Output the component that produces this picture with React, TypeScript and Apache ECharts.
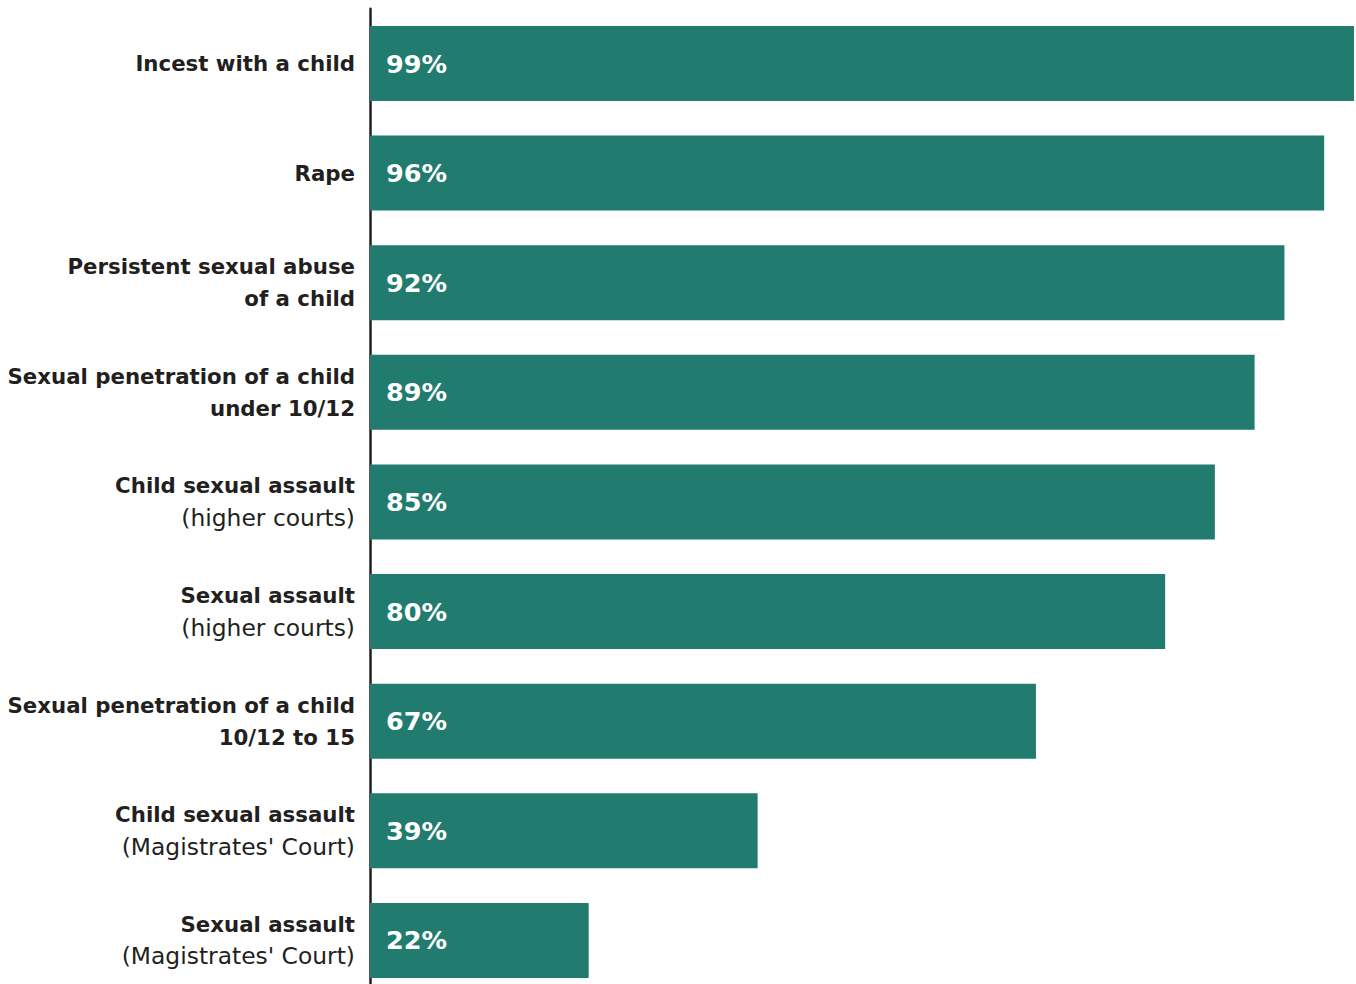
import React, { useEffect, useRef } from "react";
import * as echarts from "echarts";

const labelBold: string[] = [
  "Incest with a child",
  "Rape",
  "Persistent sexual abuse\nof a child",
  "Sexual penetration of a child\nunder 10/12",
  "Child sexual assault",
  "Sexual assault",
  "Sexual penetration of a child\n10/12 to 15",
  "Child sexual assault",
  "Sexual assault",
];
const labelNote: string[] = [
  "",
  "",
  "",
  "",
  "(higher courts)",
  "(higher courts)",
  "",
  "(Magistrates' Court)",
  "(Magistrates' Court)",
];
const values: number[] = [99, 96, 92, 89, 85, 80, 67, 39, 22];

const categories = labelBold.map((_, i) => String(i));

export default function App() {
  const ref = useRef<HTMLDivElement>(null);
  useEffect(() => {
    document.body.style.margin = "0";
    document.body.style.overflow = "hidden";
    if (!ref.current) return;
    const chart = echarts.init(ref.current, null, { renderer: "svg" });
    chart.setOption({
      animation: false,
      backgroundColor: "#ffffff",
      grid: { left: 370, right: 2, top: 8.7, height: 986.5, containLabel: false },
      xAxis: {
        type: "value",
        min: 0,
        max: 99,
        show: false,
      },
      yAxis: {
        type: "category",
        data: categories,
        inverse: true,
        axisLine: { show: true, lineStyle: { color: "#231f20", width: 2.5 } },
        axisTick: { show: false },
        axisLabel: {
          margin: 15,
          align: "right",
          formatter: (v: string) => {
            const i = Number(v);
            const parts = labelBold[i].split("\n").map((s) => `{b|${s}}`);
            if (labelNote[i]) parts.push(`{n|${labelNote[i]}}`);
            return parts.join("\n");
          },
          rich: {
            b: {
              fontFamily: "DejaVu Sans",
              fontWeight: "bold",
              fontSize: 21.3,
              color: "#231f20",
              lineHeight: 32,
              align: "right",
            },
            n: {
              fontFamily: "DejaVu Sans",
              fontWeight: "normal",
              fontSize: 23.4,
              color: "#231f20",
              lineHeight: 32,
              align: "right",
            },
          },
        },
      },
      series: [
        {
          type: "bar",
          data: values,
          barWidth: 75,
          itemStyle: { color: "#217c6f" },
          label: {
            show: true,
            position: [16, "50%"],
            align: "left",
            verticalAlign: "middle",
            formatter: "{c}%",
            color: "#ffffff",
            fontFamily: "DejaVu Sans",
            fontWeight: "bold",
            fontSize: 25.5,
          },
        },
      ],
    });
    return () => chart.dispose();
  }, []);
  return <div ref={ref} style={{ width: 1356, height: 1000 }} />;
}
